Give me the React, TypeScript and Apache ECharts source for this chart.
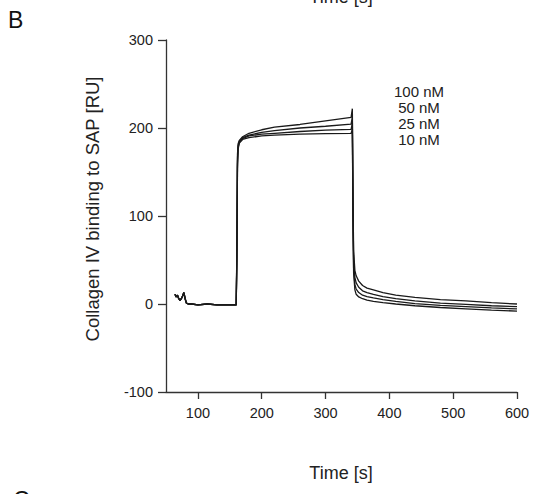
import React, { useEffect, useRef } from "react";
import * as echarts from "echarts";

// Baseline (shared by all four sensorgrams)
const baselineTimes = [64, 66, 68, 70, 72, 74, 76, 78, 80, 82, 85, 90, 100, 115, 130, 145, 160];
const baselineValues = [11, 8, 10, 6, 4, 6, 9, 13, 6, 1, 0, 0, -1, 0, -1, -1, -1];

// Association / dissociation phase
const responseTimes = [161, 162, 163, 165, 170, 180, 200, 220, 260, 300, 340, 342, 343, 344, 346, 348, 352, 358, 365, 375, 390, 410, 440, 480, 520, 560, 600];
const nM100 = [60, 170, 182, 186, 190, 194, 198, 201, 204, 208, 212, 222, 120, 60, 38, 32, 26, 21, 18, 16, 13, 10, 7.5, 5, 3.5, 1.5, 0];
const nM50 = [55, 165, 180, 185, 189, 192, 195, 197, 200, 202, 204.5, 212, 110, 50, 30, 24, 19, 15, 13, 11, 8.5, 6, 3.5, 1, -0.5, -2, -3];
const nM25 = [50, 160, 178, 184, 188, 191, 193, 194, 196, 197.5, 198.5, 205, 100, 40, 22, 17, 13, 10, 8.5, 7, 5, 3, 0.5, -1.5, -3, -4.5, -5.5];
const nM10 = [45, 155, 176, 183, 187, 189, 191, 192, 193, 193.5, 194, 198, 90, 35, 16, 11, 8, 6, 4.5, 3, 1.5, 0, -2, -4, -5.5, -7, -8];

const concentrations = ["100 nM", "50 nM", "25 nM", "10 nM"];
const seriesValues = [nM100, nM50, nM25, nM10];

const xTicks = [100, 200, 300, 400, 500, 600];

const FONT = "Liberation Sans, Arial, Helvetica, sans-serif";

function buildSeries(values: number[]) {
  const pts: [number, number][] = [];
  baselineTimes.forEach((t, i) => pts.push([t, baselineValues[i]]));
  responseTimes.forEach((t, i) => pts.push([t, values[i]]));
  return pts;
}

export default function App() {
  const ref = useRef<HTMLDivElement>(null);
  useEffect(() => {
    if (!ref.current) return;
    const chart = echarts.init(ref.current, undefined, { renderer: "svg" });
    chart.setOption({
      animation: false,
      backgroundColor: "#ffffff",
      grid: { left: 166, right: 16, top: 40, bottom: 102 },
      xAxis: {
        type: "value",
        min: 50,
        max: 600,
        splitLine: { show: false },
        axisLine: { show: true, onZero: false, lineStyle: { color: "#333", width: 1.3 } },
        axisTick: { show: true, customValues: xTicks, length: 7, lineStyle: { color: "#333", width: 1.3 } },
        axisLabel: { customValues: xTicks, margin: 13, color: "#222", fontSize: 14.5, fontFamily: FONT },
      },
      yAxis: {
        type: "value",
        min: -100,
        max: 300,
        interval: 100,
        splitLine: { show: false },
        axisLine: { show: true, lineStyle: { color: "#333", width: 1.3 } },
        axisTick: { show: true, length: 8, lineStyle: { color: "#333", width: 1.3 } },
        axisLabel: { margin: 13, color: "#222", fontSize: 14.5, fontFamily: FONT },
      },
      series: seriesValues.map((v, i) => ({
        name: concentrations[i],
        type: "line",
        data: buildSeries(v),
        showSymbol: false,
        symbol: "none",
        smooth: false,
        lineStyle: { color: "#1a1a1a", width: 1.3 },
        z: 2,
      })),
      graphic: [
        { type: "text", x: 8, y: 20, style: { text: "B", fontSize: 23, fontFamily: FONT, fill: "#111", textVerticalAlign: "middle" } },
        { type: "text", x: 341, y: -3, style: { text: "Time [s]", fontSize: 18, fontFamily: FONT, fill: "#222", textAlign: "center", textVerticalAlign: "middle" } },
        { type: "text", x: 341, y: 473, style: { text: "Time [s]", fontSize: 18, fontFamily: FONT, fill: "#222", textAlign: "center", textVerticalAlign: "middle" } },
        { type: "text", x: 13, y: 488, style: { text: "C", fontSize: 23, fontFamily: FONT, fill: "#111", textVerticalAlign: "top" } },
        {
          type: "text", x: 92, y: 209, rotation: Math.PI / 2,
          style: { text: "Collagen IV binding to SAP [RU]", fontSize: 18.5, fontFamily: FONT, fill: "#222", textAlign: "center", textVerticalAlign: "middle" },
        },
        ...concentrations.map((c, i) => ({
          type: "text", x: 419, y: 91 + i * 16.3,
          style: { text: c, fontSize: 15, fontFamily: FONT, fill: "#222", textAlign: "center", textVerticalAlign: "middle" },
        })),
      ],
    });
    return () => chart.dispose();
  }, []);
  return <div ref={ref} style={{ position: "fixed", left: 0, top: 0, width: 533, height: 494 }} />;
}
